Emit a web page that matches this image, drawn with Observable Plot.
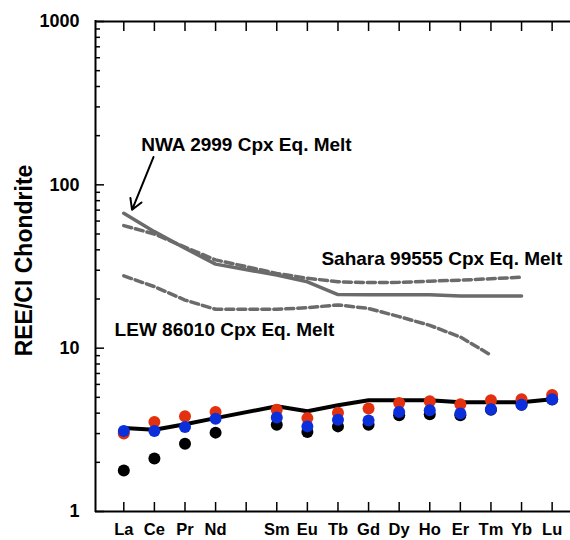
<!DOCTYPE html>
<html><head><meta charset="utf-8">
<script src="https://cdn.jsdelivr.net/npm/d3@7"></script>
<script src="https://cdn.jsdelivr.net/npm/@observablehq/plot@0.6"></script>
<style>body{margin:0;background:#fff} #chart svg{display:block}</style>
</head><body><div id="chart"></div>
<script>
// Tick slots along the x axis (Pm slot is left unlabeled)
const slots = ["La","Ce","Pr","Nd","Pm","Sm","Eu","Tb","Gd","Dy","Ho","Er","Tm","Yb","Lu"];
const tickLabels = ["La","Ce","Pr","Nd","","Sm","Eu","Tb","Gd","Dy","Ho","Er","Tm","Yb","Lu"];
const ree = ["La","Ce","Pr","Nd","Sm","Eu","Tb","Gd","Dy","Ho","Er","Tm","Yb","Lu"];

// Measured REE patterns (CI-normalised)
const blackDots = [1.78,2.11,2.60,3.04,3.40,3.07,3.32,3.40,3.88,3.94,3.88,4.20,4.50,4.85];
const redDots   = [3.00,3.53,3.83,4.07,4.20,3.73,4.03,4.27,4.62,4.73,4.53,4.80,4.86,5.17];
const blueDots  = [3.11,3.11,3.29,3.70,3.76,3.32,3.65,3.61,4.07,4.17,3.98,4.22,4.51,4.86];
const blackLine = [3.24,3.17,3.42,3.73,4.41,4.11,4.47,4.80,4.80,4.80,4.66,4.66,4.66,4.86];

// Cpx equilibrium melts
const nwaMelt    = [67,51.7,40.9,32.7,28.0,25.5,21.3,21.2,21.2,21.2,20.9,20.9,20.9]; // La..Yb
const saharaMelt = [56.3,50,41.5,34.7,28.7,26.8,25.5,25.2,25.3,25.7,26.1,26.6,27.2]; // La..Yb
const lewMelt    = [27.7,23.8,19.7,17.3,17.3,17.7,18.4,17.5,15.6,13.8,11.7,9.06];    // La..Tm

const yMajor = [1, 10, 100, 1000];
const annLabels = ["NWA 2999 Cpx Eq. Melt", "Sahara 99555 Cpx Eq. Melt", "LEW 86010 Cpx Eq. Melt"];
const annX = [0.57, 6.46, -0.30];
const annY = [176.7, 35.2, 12.95];
const arrowFrom = [0.97, 148];
const arrowTo = [0.27, 70.3];
const xDomain = [-0.925, 14.6];
const yDomain = [1, 1000];

const xOf = el => slots.indexOf(el);
const pts = vals => vals.map((v, i) => ({x: xOf(ree[i]), v}));
const yMinor = yMajor.slice(0, -1).flatMap(d => [2,3,4,5,6,7,8,9].map(k => k * d));
const slotIdx = slots.map((_, i) => i);
const ann = annLabels.map((t, i) => ({t, x: annX[i], v: annY[i]}));

const chart = Plot.plot({
  width: 570, height: 540,
  marginLeft: 95, marginRight: 0, marginTop: 21, marginBottom: 29,
  x: {type: "linear", domain: xDomain, axis: null, label: null},
  y: {type: "log", domain: yDomain, axis: null, label: null},
  style: {fontFamily: "'Liberation Sans', Arial, sans-serif", background: "white", color: "#000"},
  marks: [
    Plot.line(pts(nwaMelt), {x: "x", y: "v", stroke: "#6b6b6b", strokeWidth: 3.5}),
    Plot.line(pts(saharaMelt), {x: "x", y: "v", stroke: "#6b6b6b", strokeWidth: 3.5, strokeDasharray: "8,4"}),
    Plot.line(pts(lewMelt), {x: "x", y: "v", stroke: "#6b6b6b", strokeWidth: 3.5, strokeDasharray: "8,4"}),
    Plot.line(pts(blackLine), {x: "x", y: "v", stroke: "#000", strokeWidth: 4}),
    Plot.dot(pts(blackDots), {x: "x", y: "v", r: 6, fill: "#000"}),
    Plot.dot(pts(redDots), {x: "x", y: "v", r: 6, fill: "#e3300e"}),
    Plot.dot(pts(blueDots), {x: "x", y: "v", r: 6, fill: "#0b2fdb"}),
    // frame (left, top, bottom)
    Plot.ruleY(yDomain, {stroke: "#000", strokeWidth: 2}),
    Plot.ruleX([xDomain[0]], {stroke: "#000", strokeWidth: 2, strokeLinecap: "square"}),
    // ticks
    Plot.axisX({anchor: "bottom", ticks: slotIdx, tickSize: -9, text: null, strokeWidth: 1.5, label: null}),
    Plot.axisX({anchor: "top", ticks: slotIdx, tickSize: -9, text: null, strokeWidth: 1.5, label: null}),
    Plot.axisX({anchor: "bottom", ticks: slotIdx, tickSize: 0, tickPadding: 12, tickFormat: i => tickLabels[i],
      fontSize: 16.5, fontWeight: "bold", fill: "#000", label: null}),
    Plot.axisY({anchor: "left", ticks: yMajor, tickSize: -9, text: null, strokeWidth: 1.5, label: null}),
    Plot.axisY({anchor: "left", ticks: yMinor, tickSize: -5, text: null, strokeWidth: 1.5, label: null}),
    Plot.axisY({anchor: "left", ticks: yMajor, tickSize: 0, tickPadding: 16, tickFormat: d => String(d),
      fontSize: 18, fontWeight: "bold", fill: "#000", label: null}),
    // annotations
    Plot.text(ann, {x: "x", y: "v", text: "t", textAnchor: "start", fontSize: 19, fontWeight: "bold", fill: "#000"}),
    Plot.arrow([{}], {x1: () => arrowFrom[0], y1: () => arrowFrom[1], x2: () => arrowTo[0], y2: () => arrowTo[1],
      stroke: "#000", strokeWidth: 2, headLength: 9}),
    Plot.text(["REE/CI Chondrite"], {frameAnchor: "left", textAnchor: "middle", dx: -71, dy: -6, rotate: -90,
      fontSize: 23, fontWeight: "bold", fill: "#000"})
  ]
});
document.getElementById("chart").appendChild(chart);
</script>
</body></html>
